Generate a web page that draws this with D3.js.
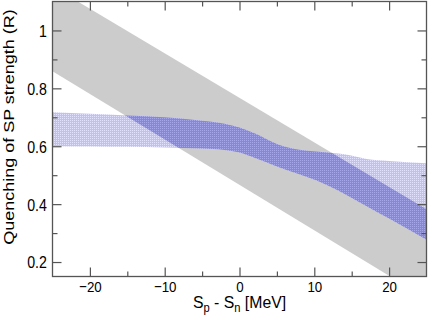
<!DOCTYPE html>
<html>
<head>
<meta charset="utf-8">
<script src="https://cdn.jsdelivr.net/npm/d3@7"></script>
<style>
  html, body { margin: 0; padding: 0; background: #fff; }
  svg { display: block; }
  text { font-family: "Liberation Sans", Arial, Helvetica, sans-serif; fill: #000; }
</style>
</head>
<body>
<div id="chart"></div>
<script>
// ---- data ----
const bandX      = [-25, -20, -15, -10, -5, -2, 0, 2, 5, 8, 11, 14, 17, 20, 25];
const blueUpper  = [0.717, 0.712, 0.706, 0.700, 0.688, 0.678, 0.665, 0.645, 0.608, 0.588, 0.580, 0.572, 0.556, 0.549, 0.541];
const blueLower  = [0.600, 0.599, 0.598, 0.596, 0.592, 0.587, 0.578, 0.560, 0.530, 0.503, 0.474, 0.436, 0.393, 0.350, 0.277];
const grayX      = [-25, 25];
const grayUpper  = [1.152, 0.382];
const grayLower  = [0.859, 0.074];
const xMajorTicks = [-20, -10, 0, 10, 20];
const xMinorTicks = [-15, -5, 5, 15];
const yMajorTicks = [0.2, 0.4, 0.6, 0.8, 1];
const yMinorTicks = [0.3, 0.5, 0.7, 0.9];
const yTickLabels = ["0.2", "0.4", "0.6", "0.8", "1"];
const xLabel = ["S", "p", " - S", "n", " [MeV]"];
const yLabel = "Quenching of SP strength (R)";

// ---- layout ----
const W = 429, H = 318;
const L = 52.5, R = 426.5, T = 1.5, B = 276.5;
const axisColor = "#555";
const sx = 0.86; // horizontal squeeze of the tick text

const x = d3.scaleLinear().domain([-25, 25]).range([L, R]);
const y = d3.scaleLinear().domain([0.15, 1.1]).range([B, T]);

const svg = d3.select("#chart").append("svg").attr("width", W).attr("height", H);
const defs = svg.append("defs");
defs.append("clipPath").attr("id", "clip")
  .append("rect").attr("x", L).attr("y", T).attr("width", R - L).attr("height", B - T);

function makePattern(id, base, dot) {
  const p = defs.append("pattern").attr("id", id)
    .attr("patternUnits", "userSpaceOnUse").attr("width", 2).attr("height", 2);
  p.append("rect").attr("width", 2).attr("height", 2).attr("fill", base);
  p.append("rect").attr("width", 1).attr("height", 1).attr("fill", dot);
}
makePattern("dotsLight", "rgb(192,192,248)", "rgb(226,226,254)");
makePattern("dotsDark", "rgb(134,134,222)", "rgb(166,166,234)");

const grayData = grayX.map((v, i) => ({x: v, lo: grayLower[i], hi: grayUpper[i]}));
const grayArea = d3.area().x(d => x(d.x)).y0(d => y(d.lo)).y1(d => y(d.hi));
defs.append("clipPath").attr("id", "grayClip")
  .append("path").datum(grayData).attr("d", grayArea);

const plot = svg.append("g").attr("clip-path", "url(#clip)");

// gray band
plot.append("path")
  .datum(grayData)
  .attr("fill", "#cccccc")
  .attr("d", grayArea);

// blue band (lighter over white, darker where it overlaps the gray band)
const blueData = bandX.map((v, i) => ({x: v, lo: blueLower[i], hi: blueUpper[i]}));
const blueArea = d3.area().curve(d3.curveMonotoneX).x(d => x(d.x)).y0(d => y(d.lo)).y1(d => y(d.hi));
plot.append("path").datum(blueData).attr("fill", "url(#dotsLight)").attr("d", blueArea);
plot.append("g").attr("clip-path", "url(#grayClip)")
  .append("path").datum(blueData).attr("fill", "url(#dotsDark)").attr("d", blueArea);

// axes
function styleAxis(g) {
  g.select(".domain").remove();
  g.selectAll(".tick line").attr("stroke", axisColor).attr("stroke-width", 1.2);
}
const majorLen = 9, minorLen = 5;

// bottom
const gB = svg.append("g").attr("transform", `translate(0,${B})`)
  .call(d3.axisBottom(x).tickValues(xMajorTicks).tickSize(-majorLen)
    .tickFormat(d => d < 0 ? "\u2212" + Math.abs(d) : String(d)));
styleAxis(gB);
gB.selectAll(".tick text").attr("font-size", 15.5).attr("fill", "#000")
  .attr("y", 10).attr("dy", "0.35em").attr("transform", `scale(${sx},1)`);
svg.append("g").attr("transform", `translate(0,${B})`)
  .call(d3.axisBottom(x).tickValues(xMinorTicks).tickSize(-minorLen).tickFormat(""))
  .call(styleAxis);

// top
svg.append("g").attr("transform", `translate(0,${T})`)
  .call(d3.axisTop(x).tickValues(xMajorTicks).tickSize(-majorLen).tickFormat(""))
  .call(styleAxis);
svg.append("g").attr("transform", `translate(0,${T})`)
  .call(d3.axisTop(x).tickValues(xMinorTicks).tickSize(-minorLen).tickFormat(""))
  .call(styleAxis);

// left
const gL = svg.append("g").attr("transform", `translate(${L},0)`)
  .call(d3.axisLeft(y).tickValues(yMajorTicks).tickSize(-majorLen)
    .tickFormat((d, i) => yTickLabels[i]));
styleAxis(gL);
gL.selectAll(".tick text").attr("font-size", 16.5).attr("fill", "#000")
  .attr("x", -6.5).attr("dy", "0.36em").attr("transform", `scale(${sx},1)`);
svg.append("g").attr("transform", `translate(${L},0)`)
  .call(d3.axisLeft(y).tickValues(yMinorTicks).tickSize(-minorLen).tickFormat(""))
  .call(styleAxis);

// right
svg.append("g").attr("transform", `translate(${R},0)`)
  .call(d3.axisRight(y).tickValues(yMajorTicks).tickSize(-majorLen).tickFormat(""))
  .call(styleAxis);
svg.append("g").attr("transform", `translate(${R},0)`)
  .call(d3.axisRight(y).tickValues(yMinorTicks).tickSize(-minorLen).tickFormat(""))
  .call(styleAxis);

// frame
svg.append("rect").attr("x", L).attr("y", T).attr("width", R - L).attr("height", B - T)
  .attr("fill", "none").attr("stroke", axisColor).attr("stroke-width", 1.3);

// x title
const xt = svg.append("g").attr("transform", `translate(${(L + R) / 2},307.5) scale(0.93,1)`)
  .append("text").attr("text-anchor", "middle").attr("font-size", 17);
xt.append("tspan").text(xLabel[0]);
xt.append("tspan").attr("dy", 4).attr("font-size", 12).text(xLabel[1]);
xt.append("tspan").attr("dy", -4).text(xLabel[2]);
xt.append("tspan").attr("dy", 4).attr("font-size", 12).text(xLabel[3]);
xt.append("tspan").attr("dy", -4).text(xLabel[4]);

// y title
svg.append("g").attr("transform", `translate(14,${(T + B) / 2 - 12}) rotate(-90)`)
  .append("text").attr("text-anchor", "middle").attr("font-size", 18)
  .attr("transform", `scale(1,${sx})`)
  .text(yLabel);
</script>
</body>
</html>
